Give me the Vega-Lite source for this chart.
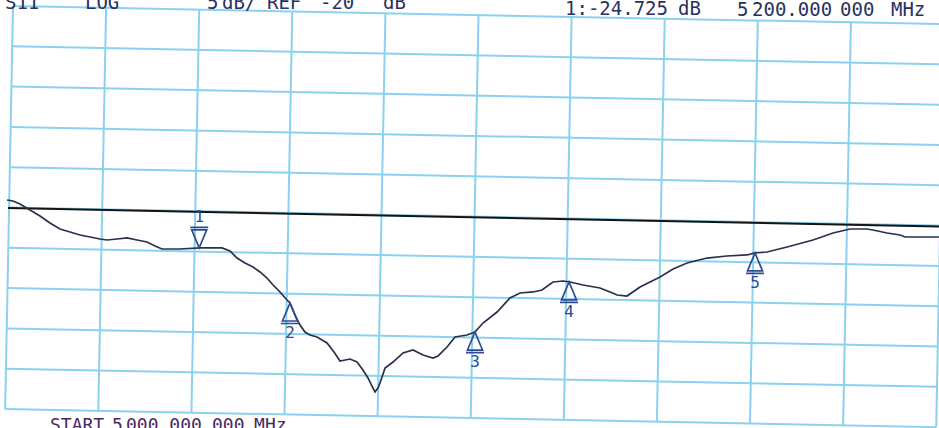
{
  "$schema": "https://vega.github.io/schema/vega-lite/v6.json",
  "width": 926,
  "height": 403,
  "autosize": {"type": "none"},
  "padding": {"left": 13, "top": 6, "right": 0, "bottom": 19},
  "background": "white",
  "config": {"view": {"stroke": null}},
  "datasets": {
    "grid": [
      {"f1": 5000.0, "d1": 5, "f2": 6000.0, "d2": 2.75},
      {"f1": 4999.2, "d1": 0, "f2": 5999.2, "d2": -2.25},
      {"f1": 4998.3, "d1": -5, "f2": 5998.3, "d2": -7.25},
      {"f1": 4997.5, "d1": -10, "f2": 5997.5, "d2": -12.25},
      {"f1": 4996.6, "d1": -15, "f2": 5996.6, "d2": -17.25},
      {"f1": 4995.8, "d1": -20, "f2": 5995.8, "d2": -22.25},
      {"f1": 4994.9, "d1": -25, "f2": 5994.9, "d2": -27.25},
      {"f1": 4994.1, "d1": -30, "f2": 5994.1, "d2": -32.25},
      {"f1": 4993.2, "d1": -35, "f2": 5993.2, "d2": -37.25},
      {"f1": 4992.4, "d1": -40, "f2": 5992.4, "d2": -42.25},
      {"f1": 4991.6, "d1": -45, "f2": 5991.6, "d2": -47.25},
      {"f1": 5000, "d1": 5.0, "f2": 4991.6, "d2": -45.0},
      {"f1": 5100, "d1": 4.77, "f2": 5091.6, "d2": -45.23},
      {"f1": 5200, "d1": 4.55, "f2": 5191.6, "d2": -45.45},
      {"f1": 5300, "d1": 4.32, "f2": 5291.6, "d2": -45.68},
      {"f1": 5400, "d1": 4.09, "f2": 5391.6, "d2": -45.91},
      {"f1": 5500, "d1": 3.87, "f2": 5491.6, "d2": -46.13},
      {"f1": 5600, "d1": 3.64, "f2": 5591.6, "d2": -46.36},
      {"f1": 5700, "d1": 3.41, "f2": 5691.6, "d2": -46.59},
      {"f1": 5800, "d1": 3.18, "f2": 5791.6, "d2": -46.82},
      {"f1": 5900, "d1": 2.96, "f2": 5891.6, "d2": -47.04},
      {"f1": 6000, "d1": 2.73, "f2": 5991.6, "d2": -47.27}
    ],
    "ref": [
      {"f": 4994.6, "db": -20.06},
      {"f": 5994.6, "db": -22.36}
    ],
    "trace": [
      {"f": 4993.6, "db": -19.07}, {"f": 5000.0, "db": -19.19}, {"f": 5007.5, "db": -19.57},
      {"f": 5018.3, "db": -20.31}, {"f": 5029.0, "db": -21.05}, {"f": 5039.7, "db": -21.92},
      {"f": 5050.5, "db": -22.67}, {"f": 5061.2, "db": -23.04}, {"f": 5072.0, "db": -23.41},
      {"f": 5082.7, "db": -23.66}, {"f": 5093.4, "db": -23.91}, {"f": 5101.0, "db": -24.03},
      {"f": 5111.7, "db": -23.91}, {"f": 5122.5, "db": -23.78}, {"f": 5133.2, "db": -24.03},
      {"f": 5143.9, "db": -24.28}, {"f": 5152.5, "db": -24.78}, {"f": 5160.0, "db": -25.15},
      {"f": 5179.4, "db": -25.15}, {"f": 5200.8, "db": -25.02}, {"f": 5211.6, "db": -25.02},
      {"f": 5224.5, "db": -25.02}, {"f": 5233.1, "db": -25.40}, {"f": 5240.6, "db": -26.27},
      {"f": 5249.2, "db": -26.89}, {"f": 5257.8, "db": -27.38}, {"f": 5265.3, "db": -28.00},
      {"f": 5272.8, "db": -28.75}, {"f": 5279.3, "db": -29.62}, {"f": 5286.8, "db": -30.48},
      {"f": 5294.3, "db": -31.48}, {"f": 5297.5, "db": -31.85}, {"f": 5302.9, "db": -33.34},
      {"f": 5308.3, "db": -34.58}, {"f": 5313.6, "db": -35.45}, {"f": 5319.0, "db": -35.82},
      {"f": 5326.5, "db": -36.07}, {"f": 5337.3, "db": -36.81}, {"f": 5344.8, "db": -37.93},
      {"f": 5351.2, "db": -39.04}, {"f": 5362.0, "db": -38.80}, {"f": 5369.5, "db": -39.17},
      {"f": 5375.9, "db": -40.16}, {"f": 5381.3, "db": -41.15}, {"f": 5385.6, "db": -42.15},
      {"f": 5388.8, "db": -42.89}, {"f": 5392.0, "db": -42.39}, {"f": 5394.2, "db": -41.77},
      {"f": 5399.6, "db": -39.91}, {"f": 5408.2, "db": -39.17}, {"f": 5418.9, "db": -38.05},
      {"f": 5429.6, "db": -37.68}, {"f": 5440.4, "db": -38.30}, {"f": 5451.1, "db": -38.67},
      {"f": 5456.5, "db": -38.42}, {"f": 5466.2, "db": -37.31}, {"f": 5474.8, "db": -36.07},
      {"f": 5487.6, "db": -35.82}, {"f": 5496.2, "db": -35.45}, {"f": 5504.8, "db": -34.33},
      {"f": 5519.9, "db": -32.97}, {"f": 5533.8, "db": -31.23}, {"f": 5544.6, "db": -30.61},
      {"f": 5558.5, "db": -30.48}, {"f": 5568.2, "db": -30.24}, {"f": 5580.0, "db": -29.24},
      {"f": 5590.8, "db": -29.12}, {"f": 5598.3, "db": -29.24}, {"f": 5612.3, "db": -29.62},
      {"f": 5630.5, "db": -29.99}, {"f": 5641.3, "db": -30.48}, {"f": 5648.8, "db": -30.86},
      {"f": 5659.5, "db": -30.98}, {"f": 5673.5, "db": -29.86}, {"f": 5684.2, "db": -29.24},
      {"f": 5695.0, "db": -28.62}, {"f": 5709.0, "db": -27.63}, {"f": 5724.0, "db": -26.89},
      {"f": 5745.4, "db": -26.27}, {"f": 5766.9, "db": -26.02}, {"f": 5788.4, "db": -25.89},
      {"f": 5797.0, "db": -25.64}, {"f": 5809.9, "db": -25.52}, {"f": 5831.4, "db": -24.90},
      {"f": 5859.3, "db": -24.03}, {"f": 5880.8, "db": -23.16}, {"f": 5899.0, "db": -22.67},
      {"f": 5917.3, "db": -22.67}, {"f": 5923.7, "db": -22.79}, {"f": 5938.8, "db": -23.16},
      {"f": 5952.8, "db": -23.41}, {"f": 5958.1, "db": -23.66}, {"f": 5994.6, "db": -23.66}
    ],
    "markers": [
      {"m": "1", "f": 5200.0, "db": -25.0},
      {"m": "2", "f": 5297.5, "db": -31.85},
      {"m": "3", "f": 5496.2, "db": -35.45},
      {"m": "4", "f": 5597.2, "db": -29.24},
      {"m": "5", "f": 5797.0, "db": -25.64}
    ],
    "header": [
      {"t": "S11", "f": 4991.4, "db": 4.63},
      {"t": "LOG", "f": 5077.3, "db": 4.63},
      {"t": "5", "f": 5208.4, "db": 4.57},
      {"t": "dB/", "f": 5224.5, "db": 4.57},
      {"t": "REF", "f": 5272.8, "db": 4.57},
      {"t": "-20", "f": 5329.7, "db": 4.57},
      {"t": "dB", "f": 5397.4, "db": 4.57},
      {"t": "1:-24.725", "f": 5592.9, "db": 3.91},
      {"t": "dB", "f": 5714.3, "db": 3.86},
      {"t": "5", "f": 5777.6, "db": 3.76},
      {"t": "200.000", "f": 5793.8, "db": 3.76},
      {"t": "000", "f": 5888.3, "db": 3.70},
      {"t": "MHz", "f": 5943.0, "db": 3.70}
    ],
    "footer": [
      {"t": "START", "f": 5039.7, "db": -47.73},
      {"t": "5", "f": 5106.3, "db": -47.73},
      {"t": "000.000", "f": 5121.4, "db": -47.73},
      {"t": "000", "f": 5213.7, "db": -47.73},
      {"t": "MHz", "f": 5258.9, "db": -47.73},
      {"t": "STOP 6 000.000 000 MHz", "f": 5686.4, "db": -49.22}
    ]
  },
  "layer": [
    {
      "data": {"name": "grid"},
      "mark": {"type": "rule", "color": "#8ad2ef", "strokeWidth": 2},
      "encoding": {
        "x": {"field": "f1", "type": "quantitative", "scale": {"domain": [5000, 5994.6], "nice": false, "zero": false}, "axis": null},
        "y": {"field": "d1", "type": "quantitative", "scale": {"domain": [-45, 5], "nice": false, "zero": false}, "axis": null},
        "x2": {"field": "f2"},
        "y2": {"field": "d2"}
      }
    },
    {
      "data": {"name": "ref"},
      "mark": {"type": "line", "color": "#141414", "strokeWidth": 2},
      "encoding": {
        "x": {"field": "f", "type": "quantitative", "axis": null},
        "y": {"field": "db", "type": "quantitative", "axis": null}
      }
    },
    {
      "data": {"name": "trace"},
      "mark": {"type": "line", "color": "#28304e", "strokeWidth": 1.7},
      "encoding": {
        "x": {"field": "f", "type": "quantitative", "axis": null},
        "y": {"field": "db", "type": "quantitative", "axis": null}
      }
    },
    {
      "data": {"name": "markers"},
      "transform": [{"filter": "datum.m !== '1'"}],
      "mark": {"type": "point", "shape": "M0,0L-0.75,1.8L0.75,1.8ZM-0.9,2.05L0.9,2.05", "size": 400, "filled": false, "stroke": "#2d4a94", "strokeWidth": 1.7, "opacity": 1},
      "encoding": {
        "x": {"field": "f", "type": "quantitative", "axis": null},
        "y": {"field": "db", "type": "quantitative", "axis": null}
      }
    },
    {
      "data": {"name": "markers"},
      "transform": [{"filter": "datum.m === '1'"}],
      "mark": {"type": "point", "shape": "M0,0L-0.75,-1.8L0.75,-1.8ZM-0.9,-2.05L0.9,-2.05", "size": 400, "filled": false, "stroke": "#2d4a94", "strokeWidth": 1.7, "opacity": 1},
      "encoding": {
        "x": {"field": "f", "type": "quantitative", "axis": null},
        "y": {"field": "db", "type": "quantitative", "axis": null}
      }
    },
    {
      "data": {"name": "markers"},
      "transform": [{"filter": "datum.m !== '1'"}],
      "mark": {"type": "text", "font": "DejaVu Sans Mono", "fontSize": 16, "color": "#2d4a94", "baseline": "middle", "align": "center", "dy": 30},
      "encoding": {
        "x": {"field": "f", "type": "quantitative", "axis": null},
        "y": {"field": "db", "type": "quantitative", "axis": null},
        "text": {"field": "m"}
      }
    },
    {
      "data": {"name": "markers"},
      "transform": [{"filter": "datum.m === '1'"}],
      "mark": {"type": "text", "font": "DejaVu Sans Mono", "fontSize": 16, "color": "#2d4a94", "baseline": "middle", "align": "center", "dy": -31},
      "encoding": {
        "x": {"field": "f", "type": "quantitative", "axis": null},
        "y": {"field": "db", "type": "quantitative", "axis": null},
        "text": {"field": "m"}
      }
    },
    {
      "data": {"name": "header"},
      "mark": {"type": "text", "font": "DejaVu Sans Mono", "fontSize": 19, "color": "#2a3160", "baseline": "alphabetic", "align": "left"},
      "encoding": {
        "x": {"field": "f", "type": "quantitative", "axis": null},
        "y": {"field": "db", "type": "quantitative", "axis": null},
        "text": {"field": "t"}
      }
    },
    {
      "data": {"name": "footer"},
      "mark": {"type": "text", "font": "DejaVu Sans Mono", "fontSize": 18, "color": "#4a2a5e", "baseline": "alphabetic", "align": "left"},
      "encoding": {
        "x": {"field": "f", "type": "quantitative", "axis": null},
        "y": {"field": "db", "type": "quantitative", "axis": null},
        "text": {"field": "t"}
      }
    }
  ]
}
